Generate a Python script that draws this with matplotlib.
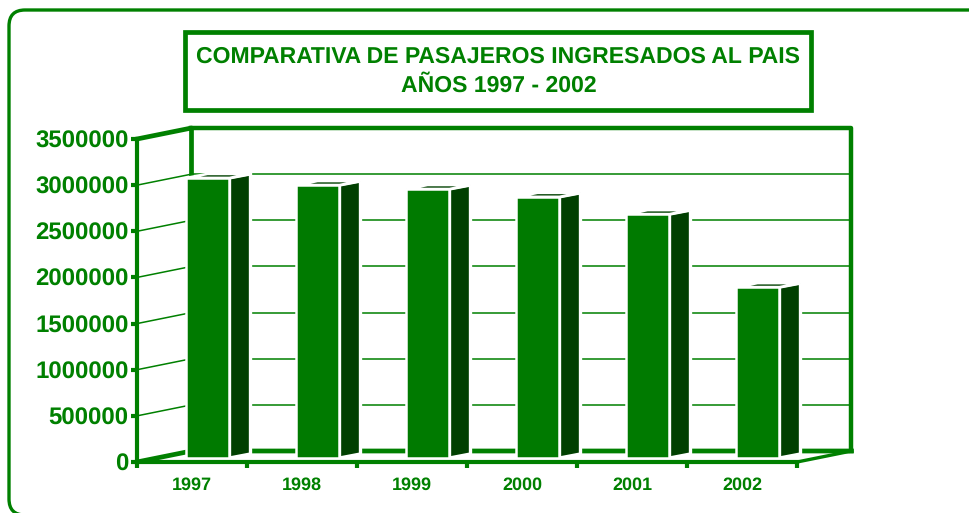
import matplotlib
matplotlib.use("Agg")
import matplotlib.pyplot as plt
from matplotlib.patches import FancyBboxPatch, Rectangle, Polygon

plt.rcParams['font.family'] = ['Liberation Sans', 'DejaVu Sans']
plt.rcParams['text.hinting'] = 'no_hinting'
plt.rcParams['text.hinting_factor'] = 1

years = ['1997', '1998', '1999', '2000', '2001', '2002']
pasajeros = [3035000, 2958000, 2915000, 2830000, 2643000, 1852000]
y_ticks = [0, 500000, 1000000, 1500000, 2000000, 2500000, 3000000, 3500000]
title_lines = ['COMPARATIVA DE PASAJEROS INGRESADOS AL PAIS', 'AÑOS 1997 - 2002']

GREEN = '#008000'
FRONT = '#007a00'
DARK = '#004000'
W, H = 970, 513

fig = plt.figure(figsize=(W / 100, H / 100), dpi=100)

# background layer in pixels: rounded frame and title box
bg = fig.add_axes([0, 0, 1, 1], zorder=0)
bg.set_xlim(0, W)
bg.set_ylim(H, 0)
bg.axis('off')
r = 16
bg.add_patch(FancyBboxPatch((9 + r, 10 + r), 1040, 473,
                            boxstyle='round,pad=%d,rounding_size=%d' % (r, r),
                            fc='white', ec=GREEN, lw=2.4, clip_on=True))
bg.add_patch(Rectangle((185.5, 31.5), 625.5, 78.5, fc='white', ec=GREEN, lw=3.4))
bg.text(498.5, 57, title_lines[0], ha='center', va='center', color=GREEN,
        fontsize=16.7, fontweight='bold')
bg.text(498.5, 86, title_lines[1], ha='center', va='center', color=GREEN,
        fontsize=16.7, fontweight='bold')

# main axes = front plane of the 3d box
ax = fig.add_axes([137 / W, 1 - 462 / H, 660 / W, 323 / H], zorder=1)
ax.patch.set_alpha(0)
ax.set_xlim(0, 6)
ax.set_ylim(0, 3500000)

unit_x = 1 / 110            # categories per pixel
unit_y = 500000 / 46.14     # value per pixel
wall_dx, wall_dy = 54.5 * unit_x, 11 * unit_y
bar_dx, bar_dy = 21 * unit_x, 4 * unit_y
bar_left = 49.5 * unit_x
bar_w = 43 * unit_x

# back wall grid and side wall lines
for v in y_ticks[1:-1]:
    ax.plot([0, wall_dx], [v, v + wall_dy], color=GREEN, lw=1.1, zorder=1, clip_on=False)
    ax.plot([wall_dx, 6 + wall_dx], [v + wall_dy, v + wall_dy], color=GREEN, lw=1.1, zorder=1, clip_on=False)

# box outline
ax.plot([0, wall_dx, wall_dx], [3500000, 3500000 + wall_dy, wall_dy], color=GREEN, lw=3.4, zorder=1, clip_on=False)
ax.plot([wall_dx, 6 + wall_dx, 6 + wall_dx], [3500000 + wall_dy, 3500000 + wall_dy, wall_dy], color=GREEN, lw=3.2, zorder=1, clip_on=False)
ax.plot([0, wall_dx, 6 + wall_dx], [0, wall_dy, wall_dy], color=GREEN, lw=3.4, zorder=1, clip_on=False)
ax.plot([6, 6 + wall_dx], [0, wall_dy], color=GREEN, lw=2.4, zorder=1, clip_on=False)

# bars
for i, v in enumerate(pasajeros):
    x0 = i + bar_left
    x1 = x0 + bar_w
    top = v + bar_dy
    side = [(x1, bar_dy), (x1 + bar_dx, 2 * bar_dy), (x1 + bar_dx, top + bar_dy), (x1, top)]
    roof = [(x0, top), (x0 + bar_dx, top + bar_dy), (x1 + bar_dx, top + bar_dy), (x1, top)]
    # white halo behind each bar hides the grid
    ax.add_patch(Polygon(side, fc=DARK, ec='white', lw=2.4, zorder=3, clip_on=False))
    ax.add_patch(Polygon(roof, fc=DARK, ec='white', lw=1.9, zorder=3, clip_on=False))
ax.bar([i + bar_left for i in range(len(years))], pasajeros, bar_w, bottom=bar_dy, align='edge',
       color=FRONT, edgecolor='white', linewidth=1.8, zorder=4, clip_on=False)

for s in ['top', 'right']:
    ax.spines[s].set_visible(False)
for s in ['left', 'bottom']:
    ax.spines[s].set_color(GREEN)
    ax.spines[s].set_linewidth(3)
    ax.spines[s].set_zorder(5)

ax.set_yticks(y_ticks)
ax.set_yticklabels([str(v) for v in y_ticks])
ax.tick_params(axis='y', length=4.5, width=3, color=GREEN, labelcolor=GREEN, labelsize=17, pad=1.5)
ax.set_xticks(range(7))
ax.set_xticklabels([])
ax.set_xticks([i + 0.5 for i in range(6)], minor=True)
ax.set_xticklabels(years, minor=True)
ax.tick_params(axis='x', which='major', length=4.5, width=3, color=GREEN)
ax.tick_params(axis='x', which='minor', length=0, labelcolor=GREEN, labelsize=13.2, pad=10.5)
for t in ax.get_xticklabels(minor=True) + ax.get_yticklabels():
    t.set_fontweight('bold')

fig.savefig('out.png', dpi=100)
